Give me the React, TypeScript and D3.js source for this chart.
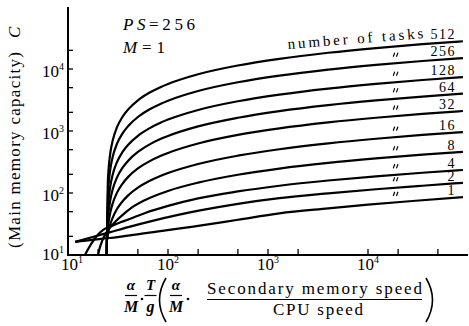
import React from "react";
import * as d3 from "d3";

const WIDTH = 469;
const HEIGHT = 326;
const SERIF = { fontFamily: '"Liberation Serif"' };

// Task counts, one curve each
const taskCounts = [1, 2, 4, 8, 16, 32, 64, 128, 256, 512];

// Small task counts: each curve has its own ratio samples
const ratio1 = [11.8, 18, 26, 60, 200, 500, 1300, 4000, 10000, 30000, 89000];
const capacity1 = [16.3, 17.7, 18.8, 22.6, 29.4, 37, 47, 56.5, 65, 75, 86];

const ratio2 = [11.8, 18, 26, 40, 70, 120, 209, 500, 1300, 4000, 12000, 35000, 89000];
const capacity2 = [16.3, 19.7, 23.2, 28.2, 35.6, 43.5, 52.3, 66.8, 82.4, 98.6, 115, 131, 146];

const ratio4 = [13.5, 15, 17, 19.5, 22.5, 26, 30, 35, 42, 60, 100, 200, 500, 1300, 4000, 12000, 35000, 89000];
const capacity4 = [7.5, 10.5, 15, 20.5, 25.5, 28.5, 31.5, 34.5, 38.5, 48, 62, 82, 106, 131, 159, 186, 212, 235];

const ratio8 = [19.5, 20.5, 22, 24, 26.5, 30, 35, 42, 60, 100, 200, 500, 1300, 4000, 12000, 35000, 89000];
const capacity8 = [8, 12, 17, 22.5, 28, 35, 44, 56, 78, 108, 147, 197, 248, 306, 361, 415, 460];

// Larger task counts share one set of ratio samples
const ratioShared = [24.3, 24.5, 25, 25.5, 26.5, 28, 31, 35, 40, 50, 65, 85, 100, 200, 500, 1300, 4000, 12000, 35000, 89000];
const capacity16 = [6, 17, 21.2, 24.8, 31.3, 40.1, 55.6, 73.1, 91.7, 121.8, 155.9, 189.8, 210, 294, 400, 508, 632, 750, 863, 960];
const capacity32 = [6, 17, 26.3, 34.3, 48.7, 68.1, 102.3, 140.9, 182, 248.5, 323.8, 398.8, 443.3, 628.7, 864, 1102, 1375, 1636, 1887, 2100];
const capacity64 = [6, 17, 34.9, 50.1, 77.6, 114.8, 180.1, 253.9, 332.5, 459.7, 603.6, 747, 832, 1187, 1636, 2092, 2614, 3112, 3592, 4000];
const capacity128 = [6, 17, 50.1, 78.4, 129.3, 198.2, 319.4, 456.2, 601.9, 837.6, 1104, 1370, 1528, 2185, 3019, 3864, 4832, 5754, 6644, 7400];
const capacity256 = [6, 17, 84.2, 141.6, 244.9, 384.8, 630.8, 908.3, 1204, 1682, 2224, 2763, 3084, 4417, 6110, 7825, 9788, 11661, 13466, 15000];
const capacity512 = [6, 17, 142.6, 249.6, 442.6, 703.9, 1163, 1682, 2234, 3127, 4139, 5146, 5744, 8235, 11396, 14599, 18265, 21763, 25134, 28000];

const ratioSets = [ratio1, ratio2, ratio4, ratio8, ratioShared, ratioShared, ratioShared, ratioShared, ratioShared, ratioShared];
const capacitySets = [capacity1, capacity2, capacity4, capacity8, capacity16, capacity32, capacity64, capacity128, capacity256, capacity512];

// Axis ticks
const yTickValues = [20, 50, 100, 200, 500, 1000, 2000, 5000, 10000, 20000];
const xTickValues = [20, 50, 100, 200, 500, 1000, 2000, 10000, 20000, 50000];
const decadeExponents = [1, 2, 3, 4];

type Pt = [number, number];

const xScale = d3.scaleLog().domain([10, 1e5]).range([68, 468]);
const yScale = d3.scaleLog().domain([10, 1e5]).range([255, 7]);

const series = taskCounts.map((n, i) => ({
  n,
  points: ratioSets[i].map((r, j) => [r, capacitySets[i][j]] as Pt),
}));

const lineGen = d3
  .line<Pt>()
  .x((d) => xScale(d[0]))
  .y((d) => yScale(d[1]))
  .curve(d3.curveMonotoneX);

// capacity on a curve at a horizontal pixel position (log-log interpolation)
function yOnCurve(points: Pt[], px: number): number {
  const r = xScale.invert(px);
  for (let i = 0; i < points.length - 1; i++) {
    const [x0, y0] = points[i];
    const [x1, y1] = points[i + 1];
    if (r >= x0 && r <= x1) {
      const t = (Math.log(r) - Math.log(x0)) / (Math.log(x1) - Math.log(x0));
      return yScale(Math.exp(Math.log(y0) + t * (Math.log(y1) - Math.log(y0))));
    }
  }
  return yScale(points[points.length - 1][1]);
}

function Decade({ exp }: { exp: number }) {
  return (
    <>
      10
      <tspan dy={-7} fontSize={10}>
        {exp}
      </tspan>
    </>
  );
}

function Fraction({ cx, top, bottom }: { cx: number; top: string; bottom: string }) {
  return (
    <g fontStyle="italic" fontWeight="bold" textAnchor="middle">
      <text x={cx} y={290} fontSize={15} style={SERIF}>
        {top}
      </text>
      <line x1={cx - 6} x2={cx + 6} y1={295.5} y2={295.5} stroke="#000" strokeWidth={1.2} />
      <text x={cx} y={312} fontSize={16} style={SERIF}>
        {bottom}
      </text>
    </g>
  );
}

function Ditto({ x, y }: { x: number; y: number }) {
  return (
    <g stroke="#000" strokeWidth={1.2} strokeLinecap="round">
      <line x1={x - 2.6} y1={y + 1.6} x2={x - 1.4} y2={y - 1.6} />
      <line x1={x + 0.6} y1={y + 1.6} x2={x + 1.8} y2={y - 1.6} />
    </g>
  );
}

export default function App() {
  const dittoPx = 396;
  const labelPx = 446;

  return (
    <svg
      width={WIDTH}
      height={HEIGHT}
      viewBox={`0 0 ${WIDTH} ${HEIGHT}`}
      style={{ position: "fixed", left: 0, top: 0, background: "#fff" }}
    >
      <defs>
        <clipPath id="plot-area">
          <rect x={68} y={0} width={400} height={255} />
        </clipPath>
      </defs>
      <rect width={WIDTH} height={HEIGHT} fill="#fff" />

      {/* curves */}
      <g clipPath="url(#plot-area)" fill="none" stroke="#000" strokeWidth={2.2} strokeLinejoin="round">
        {series.map((s) => (
          <path key={s.n} d={lineGen(s.points) ?? ""} />
        ))}
      </g>

      {/* axes */}
      <g stroke="#000" strokeWidth={2}>
        <line x1={68} x2={68} y1={7} y2={256} />
        <line x1={67} x2={468} y1={255} y2={255} />
      </g>
      <g stroke="#000" strokeWidth={1.3}>
        {yTickValues.map((v) => (
          <line key={"yt" + v} x1={68} x2={73} y1={yScale(v)} y2={yScale(v)} />
        ))}
        {xTickValues.map((v) => (
          <line key={"xt" + v} x1={xScale(v)} x2={xScale(v)} y1={255} y2={249} />
        ))}
      </g>

      {/* tick labels */}
      <g fontSize={17} fill="#000">
        {decadeExponents.map((e) => (
          <text
            key={"yl" + e}
            x={64}
            y={yScale(Math.pow(10, e)) + (e === 1 ? 5 : 8)}
            textAnchor="end"
            style={SERIF}
          >
            <Decade exp={e} />
          </text>
        ))}
        {decadeExponents.map((e) => (
          <text key={"xl" + e} x={xScale(Math.pow(10, e)) - (e === 1 ? 7 : 11)} y={270} style={SERIF}>
            <Decade exp={e} />
          </text>
        ))}
      </g>

      {/* y axis title */}
      <g fontSize={17} fill="#000">
        <text transform="translate(20,248) rotate(-90)" textLength={196} lengthAdjust="spacing" style={SERIF}>
          (Main memory capacity)
        </text>
        <text transform="translate(20,38) rotate(-90)" fontStyle="italic" style={SERIF}>
          C
        </text>
      </g>

      {/* parameters */}
      <g fontSize={17} fill="#000">
        <text x={123} y={30} textLength={72} lengthAdjust="spacing" style={SERIF}>
          <tspan fontStyle="italic">PS</tspan>=256
        </text>
        <text x={123} y={53} textLength={42} lengthAdjust="spacing" style={SERIF}>
          <tspan fontStyle="italic">M</tspan>=1
        </text>
      </g>

      {/* curve labels */}
      <g fontSize={14} fill="#000">
        <text
          transform="translate(288,49) rotate(-4.6)"
          textLength={136}
          lengthAdjust="spacing"
          fontSize={15}
          style={SERIF}
        >
          number of tasks
        </text>
        {series.map((s) => (
          <text
            key={"lab" + s.n}
            x={456}
            y={yOnCurve(s.points, labelPx) - 3}
            textAnchor="end"
            letterSpacing={1.5}
            style={SERIF}
          >
            {s.n}
          </text>
        ))}
        {series
          .filter((s) => s.n !== 512)
          .map((s) => (
            <Ditto key={"dit" + s.n} x={dittoPx} y={yOnCurve(s.points, dittoPx) - 8.5} />
          ))}
      </g>

      {/* x axis title */}
      <g fill="#000">
        <Fraction cx={131} top="α" bottom="M" />
        <circle cx={142} cy={299} r={1.3} />
        <Fraction cx={150.5} top="T" bottom="g" />
        <path d="M166,278 Q153,300 166,322" fill="none" stroke="#000" strokeWidth={1.6} />
        <Fraction cx={176} top="α" bottom="M" />
        <circle cx={188} cy={299} r={1.3} />
        <text x={207} y={294} fontSize={17} textLength={215} lengthAdjust="spacing" style={SERIF}>
          Secondary memory speed
        </text>
        <line x1={207} x2={422} y1={299.5} y2={299.5} stroke="#000" strokeWidth={1.2} />
        <text x={273} y={315} fontSize={17} textLength={90} lengthAdjust="spacing" style={SERIF}>
          CPU speed
        </text>
        <path d="M426,278 Q439,300 426,322" fill="none" stroke="#000" strokeWidth={1.6} />
      </g>
    </svg>
  );
}
